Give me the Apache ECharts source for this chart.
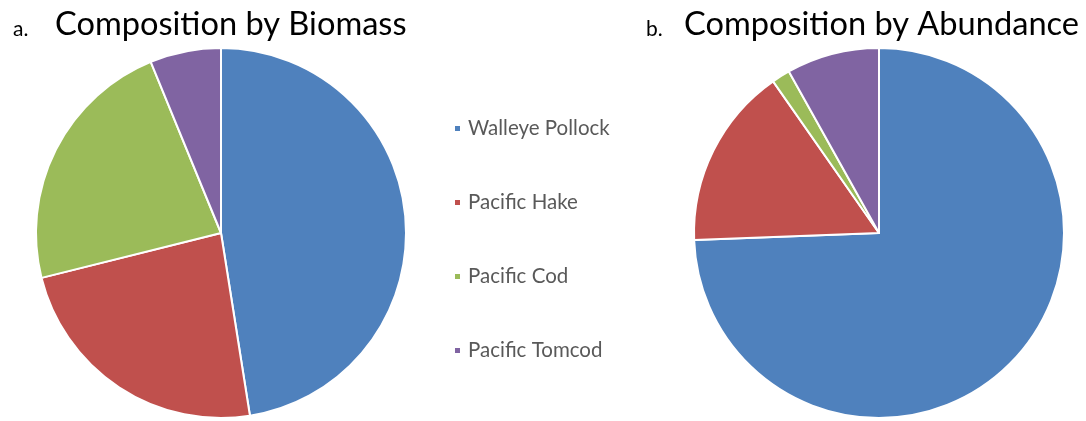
<!DOCTYPE html>
<html>
<head>
<meta charset="utf-8">
<script src="https://cdn.jsdelivr.net/npm/echarts@6/dist/echarts.min.js"></script>
<style>
  html, body { margin: 0; padding: 0; background: #fff; }
  #chart { width: 1086px; height: 421px; }
</style>
</head>
<body>
<div id="chart"></div>
<script>
// Species shared by both pies
const species = ['Walleye Pollock', 'Pacific Hake', 'Pacific Cod', 'Pacific Tomcod'];
// Percent share of catch by biomass
const biomassShare = [47.5, 23.6, 22.7, 6.2];
// Percent share of catch by number of fish
const abundanceShare = [74.4, 15.9, 1.6, 8.1];
const palette = ['#4F81BD', '#C0504D', '#9BBB59', '#8064A2'];

const FONT = 'Lato, "Open Sans", sans-serif';

function toData(values) {
  return species.map((name, i) => ({ name, value: values[i] }));
}

function pie(name, values, center) {
  return {
    type: 'pie',
    name,
    center,
    radius: 185,
    startAngle: 90,
    clockwise: true,
    avoidLabelOverlap: false,
    label: { show: false },
    labelLine: { show: false },
    emphasis: { disabled: true },
    itemStyle: { borderColor: '#ffffff', borderWidth: 2 },
    data: toData(values)
  };
}

const chart = echarts.init(document.getElementById('chart'), null, { renderer: 'canvas' });
chart.setOption({
  animation: false,
  color: palette,
  title: [
    { text: 'a.', left: 8, top: 14, textStyle: { fontFamily: FONT, fontSize: 21, fontWeight: 'normal', color: '#000' } },
    { text: 'Composition by Biomass', left: 50, top: 3, textStyle: { fontFamily: FONT, fontSize: 32.6, fontWeight: 'normal', color: '#000' } },
    { text: 'b.', left: 641, top: 14, textStyle: { fontFamily: FONT, fontSize: 21, fontWeight: 'normal', color: '#000' } },
    { text: 'Composition by Abundance', left: 679, top: 3, textStyle: { fontFamily: FONT, fontSize: 32.6, fontWeight: 'normal', color: '#000' } }
  ],
  legend: {
    orient: 'vertical',
    left: 448,
    top: 113,
    itemWidth: 7,
    itemHeight: 7,
    itemGap: 53,
    icon: 'rect',
    selectedMode: false,
    data: species,
    textStyle: { fontFamily: FONT, fontSize: 20.5, color: '#595959', padding: [0, 0, 0, 2] }
  },
  series: [
    pie('Composition by Biomass', biomassShare, [221, 233]),
    pie('Composition by Abundance', abundanceShare, [879, 233])
  ]
});
</script>
</body>
</html>
